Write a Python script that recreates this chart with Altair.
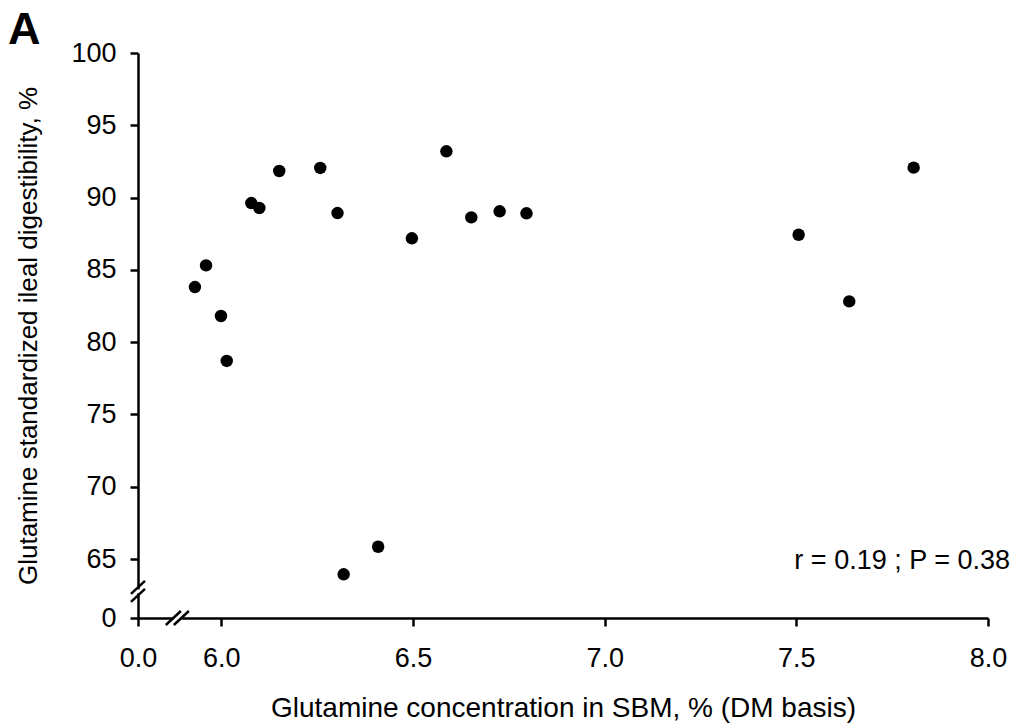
import altair as alt
import pandas as pd

# Data
gln_conc = [5.931, 5.960, 5.999, 6.014, 6.078, 6.099, 6.151, 6.258, 6.303, 6.319,
            6.409, 6.497, 6.587, 6.652, 6.726, 6.796, 7.506, 7.638, 7.806]
gln_sid = [83.81, 85.31, 81.81, 78.70, 89.62, 89.28, 91.84, 92.05, 88.93, 63.94,
           65.85, 87.18, 93.20, 88.63, 89.05, 88.91, 87.43, 82.82, 92.07]

x_ticks = [5.7825, 6.0, 6.5, 7.0, 7.5, 8.0]
y_ticks = [60.92, 65, 70, 75, 80, 85, 90, 95, 100]
x_domain = [5.7825, 8.0]
y_domain = [60.92, 100]

FONT = "Liberation Sans"

df = pd.DataFrame({"x": gln_conc, "y": gln_sid})

xs = alt.Scale(domain=x_domain, nice=False, zero=False)
ys = alt.Scale(domain=y_domain, nice=False, zero=False)

x_axis = alt.Axis(values=x_ticks, labelExpr="datum.value < 5.9 ? '0.0' : format(datum.value, '.1f')",
                  title="Glutamine concentration in SBM, % (DM basis)", grid=False,
                  domainColor="black", domainWidth=2.5, tickColor="black", tickWidth=2.5, tickSize=8,
                  labelFont=FONT, labelFontSize=27, labelColor="black", labelPadding=19,
                  titleFont=FONT, titleFontSize=28, titleFontWeight="normal", titleColor="black",
                  titlePadding=23, labelFlush=False)
y_axis = alt.Axis(values=y_ticks, labelExpr="datum.value < 62 ? '0' : format(datum.value, 'd')",
                  title="Glutamine standardized ileal digestibility, %", grid=False,
                  domainColor="black", domainWidth=2.5, tickColor="black", tickWidth=2.5, tickSize=8,
                  labelFont=FONT, labelFontSize=27, labelColor="black", labelPadding=14,
                  titleFont=FONT, titleFontSize=26, titleFontWeight="normal", titleColor="black",
                  titlePadding=29, labelFlush=False)

points = alt.Chart(df).mark_circle(size=155, color="black", opacity=1).encode(
    x=alt.X("x:Q", scale=xs, axis=x_axis),
    y=alt.Y("y:Q", scale=ys, axis=y_axis),
)

# Axis break marks (in data units)
gaps = pd.DataFrame({
    "x": [5.7825, 5.8747], "x2": [5.7825, 5.8956],
    "y": [62.63, 60.92], "y2": [62.90, 60.92],
})
gap_rules = alt.Chart(gaps).mark_rule(color="white", strokeWidth=5).encode(
    x=alt.X("x:Q", scale=xs), x2="x2", y=alt.Y("y:Q", scale=ys), y2="y2")

slashes = pd.DataFrame({
    "x": [5.7642, 5.7642, 5.8551, 5.8760],
    "x2": [5.8008, 5.8008, 5.8943, 5.9152],
    "y": [62.59, 62.04, 60.436, 60.436],
    "y2": [63.49, 62.94, 61.404, 61.404],
})
slash_rules = alt.Chart(slashes).mark_rule(color="black", strokeWidth=2.5).encode(
    x=alt.X("x:Q", scale=xs), x2="x2", y=alt.Y("y:Q", scale=ys), y2="y2")

ann = pd.DataFrame({"x": [8.0575], "y": [64.29], "t": ["r = 0.19 ; P = 0.38"]})
ann_text = alt.Chart(ann).mark_text(align="right", baseline="alphabetic", font=FONT,
                                    fontSize=27, color="black").encode(
    x=alt.X("x:Q", scale=xs), y=alt.Y("y:Q", scale=ys), text="t:N")

panel = pd.DataFrame({"t": ["A"]})
panel_text = alt.Chart(panel).mark_text(align="left", baseline="alphabetic", font=FONT,
                                        fontSize=45, fontWeight="bold", color="black").encode(
    x=alt.value(-130), y=alt.value(-9), text="t:N")

chart = alt.layer(points, gap_rules, slash_rules, ann_text, panel_text).properties(
    width=850, height=565,
    padding={"left": 138, "top": 53, "right": 38, "bottom": 105},
    autosize="none",
    background="white",
).configure_view(stroke=None)

chart.save("out.html", embed_options={"renderer": "svg", "actions": False})
